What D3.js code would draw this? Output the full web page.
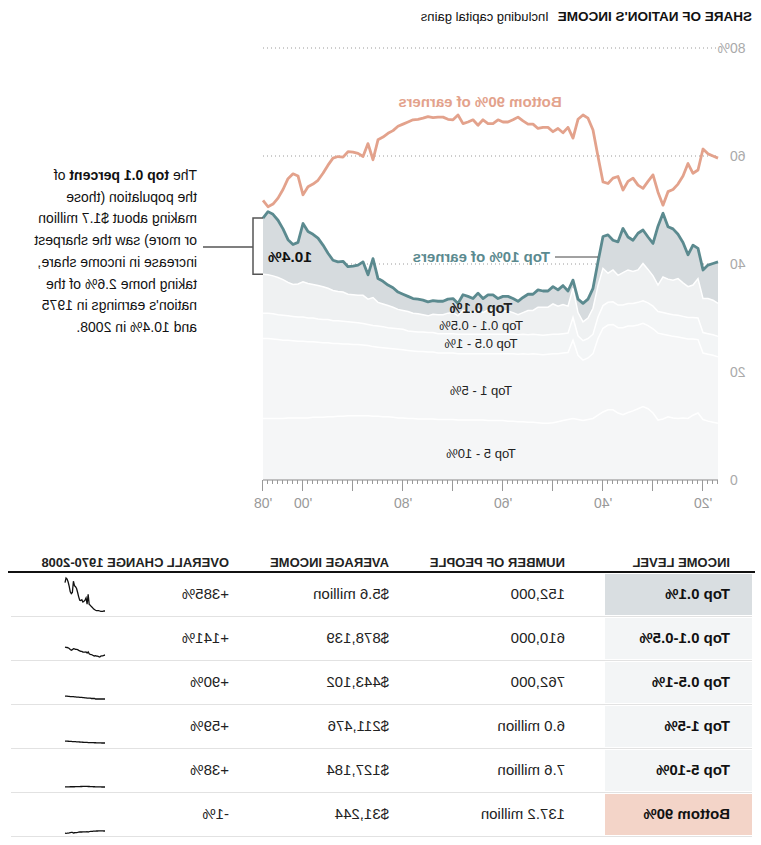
<!DOCTYPE html>
<html><head><meta charset="utf-8">
<script src="https://cdn.jsdelivr.net/npm/d3@7"></script>
<style>
body{margin:0;background:#fff;}
svg{display:block;font-family:"Liberation Sans",Arial,Helvetica,sans-serif;}
</style></head>
<body>
<svg id="chart" width="761" height="845"></svg>
<script>
// ---------- DATA ----------
const years = d3.range(1917, 2009);
const top5to10 = [10.5,10.7,10.9,11.2,12.4,12.0,11.4,11.5,11.4,11.5,
11.7,11.3,11.1,12.4,13.2,13.6,13.2,12.8,12.5,12.1,
12.4,13.0,13.0,12.6,12.0,11.4,11.2,11.0,11.2,11.4,
11.2,11.0,10.8,10.6,10.5,10.5,10.6,10.7,10.7,10.8,
10.8,10.9,10.9,11.0,11.0,11.0,11.0,11.1,11.1,11.1,
11.1,11.1,11.1,11.2,11.2,11.2,11.2,11.3,11.3,11.3,
11.3,11.4,11.4,11.5,11.5,11.6,11.7,11.7,11.8,11.8,
11.9,11.9,11.9,11.9,11.9,11.8,11.8,11.7,11.7,11.6,
11.6,11.6,11.5,11.5,11.5,11.5,11.5,11.4,11.4,11.4,
11.4,11.4];
const top1to5 = [12.3,12.4,12.4,12.3,13.6,14.1,14.7,14.8,15.1,15.1,
15.1,15.7,16.1,15.6,15.4,15.4,15.5,15.7,16.0,16.1,
15.8,15.8,15.7,15.5,14.2,12.0,11.4,11.2,11.9,14.5,
12.4,12.5,12.6,12.8,12.8,12.7,12.7,12.7,12.6,12.6,
12.5,12.5,12.5,12.4,12.4,12.4,12.4,12.3,12.3,12.3,
12.3,12.3,12.3,12.3,12.3,12.3,12.3,12.4,12.4,12.5,
12.5,12.5,12.6,12.6,12.7,12.7,12.7,12.8,12.8,12.9,
13.0,13.1,13.2,13.2,13.3,13.4,13.5,13.6,13.7,13.8,
13.9,14.0,14.1,14.2,14.2,14.3,14.4,14.5,14.6,14.7,
14.8,14.8];
const top05to1 = [3.8,3.8,3.8,3.8,4.0,4.0,4.0,4.0,4.0,4.0,
4.0,4.0,4.0,4.2,4.2,4.2,4.2,4.2,4.2,4.2,
4.2,4.2,4.2,4.2,4.0,3.6,3.6,3.6,3.6,4.2,
3.6,3.6,3.6,3.6,3.6,3.6,3.6,3.6,3.6,3.6,
3.6,3.6,3.6,3.6,3.6,3.6,3.6,3.6,3.6,3.6,
3.6,3.6,3.6,3.6,3.6,3.6,3.6,3.6,3.6,3.6,
3.6,3.6,3.6,3.8,3.8,3.8,3.8,3.9,3.9,3.9,
3.9,4.0,4.0,4.1,4.1,4.2,4.2,4.2,4.3,4.3,
4.3,4.4,4.4,4.5,4.5,4.5,4.5,4.6,4.6,4.7,
4.7,4.7];
const top01to05 = [6.1,6.4,6.5,6.3,7.3,6.0,5.7,6.2,6.8,6.4,
6.4,6.6,4.9,5.6,6.2,6.9,6.0,5.9,6.2,6.0,
5.5,5.9,5.4,6.9,5.8,4.8,3.8,3.5,4.3,5.4,
5.0,5.4,5.2,5.6,5.1,5.2,5.1,4.4,4.5,4.0,
3.7,4.0,4.3,4.3,4.0,4.5,4.5,4.0,4.7,4.0,
4.2,4.4,3.4,3.9,3.8,3.5,3.5,3.4,3.1,3.2,
3.4,3.4,3.6,3.5,3.6,3.9,4.1,4.2,4.4,5.2,
4.7,5.2,5.1,5.1,5.1,5.4,5.4,5.6,5.8,6.1,
6.2,6.2,6.4,6.5,6.1,5.9,6.2,6.6,6.9,7.0,
7.1,7.2];
const top01 = [7.7,6.8,6.2,5.3,5.6,7.4,5.9,7.5,8.2,9.5,
9.7,11.8,10.9,6.0,6.0,6.2,6.8,5.8,6.1,8.2,
6.2,5.5,7.1,5.9,4.4,3.7,3.5,3.4,2.5,1.5,
2.8,3.5,3.0,3.2,3.0,3.0,3.2,3.0,3.0,2.8,
2.5,2.6,2.7,2.7,2.6,2.8,2.8,2.6,2.9,2.6,
2.8,2.9,2.3,2.6,2.6,2.5,2.5,2.5,2.6,2.7,
2.7,2.7,2.8,3.0,3.2,3.6,3.8,4.2,4.4,7.2,
4.5,6.2,5.6,5.3,5.1,5.7,5.5,5.6,6.5,7.7,
8.8,9.3,9.6,10.8,7.7,7.4,7.9,9.4,10.6,11.4,
11.7,10.4];
const bottom90 = [59.6,60.0,60.4,61.3,57.4,56.8,58.6,56.3,54.8,53.8,
53.4,50.9,53.3,56.5,55.3,54.0,54.6,55.9,55.3,53.7,
56.2,55.9,54.9,55.2,59.9,64.8,67.0,67.6,66.8,63.3,
65.3,64.3,65.1,64.5,65.3,65.3,65.1,65.9,65.9,66.5,
67.2,66.7,66.3,66.3,66.7,66.0,66.0,66.7,65.7,66.7,
66.3,66.0,67.6,66.7,66.8,67.2,67.2,67.1,67.3,67.0,
66.8,66.7,66.3,65.9,65.5,64.7,64.2,63.5,63.0,59.3,
62.3,59.9,60.5,60.7,60.8,59.8,59.9,59.6,58.3,56.8,
55.5,54.8,54.3,52.8,56.3,56.7,55.8,53.8,52.2,51.1,
50.6,51.8];

const layerKeys = ["top5to10","top1to5","top05to1","top01to05","top01"];
const layerLabels = ["Top 5 - 10%","Top 1 - 5%","Top 0.5 - 1%","Top 0.1 - 0.5%","Top 0.1%"];
const yTicks = [0,20,40,60,80];
const xLabelYears = [1920,1940,1960,1980,2000,2008];

const tableHeaders = ["INCOME LEVEL","NUMBER OF PEOPLE","AVERAGE INCOME","OVERALL CHANGE 1970-2008"];
const incomeLevels = ["Top 0.1%","Top 0.1-0.5%","Top 0.5-1%","Top 1-5%","Top 5-10%","Bottom 90%"];
const numPeople = ["152,000","610,000","762,000","6.0 million","7.6 million","137.2 million"];
const avgIncome = ["$5.6 million","$878,139","$443,102","$211,476","$127,184","$31,244"];
const overallChange = ["+385%","+141%","+90%","+59%","+38%","-1%"];

// ---------- SETUP ----------
const W = 761, H = 845;
const svg = d3.select("#chart");
// whole picture is mirrored horizontally, like the reference
const root = svg.append("g").attr("transform", `translate(${W},0) scale(-1,1)`);

const x = d3.scaleLinear().domain([1920, 2000]).range([58, 458]);
const y = d3.scaleLinear().domain([0, 80]).range([480, 48]);

const table = years.map((yr, i) => ({
  year: yr, top5to10: top5to10[i], top1to5: top1to5[i], top05to1: top05to1[i],
  top01to05: top01to05[i], top01: top01[i], bottom90: bottom90[i]
}));
const stack = d3.stack().keys(layerKeys)(table);

const teal = "#5b8a8f", salmon = "#e3a28c";

// title
const title = root.append("text").attr("x", 9).attr("y", 21).attr("fill", "#111");
title.append("tspan").attr("font-weight", "bold").attr("font-size", 13.5).text("SHARE OF NATION'S INCOME");
title.append("tspan").attr("dx", 9).attr("font-size", 13).text("Including capital gains");

// grid lines
const grid = root.append("g");
yTicks.filter(d => d > 0).forEach(t => {
  grid.append("line").attr("x1", 45).attr("x2", 498).attr("y1", y(t)).attr("y2", y(t))
    .attr("stroke", "#9a9a9a").attr("stroke-width", 1).attr("stroke-dasharray", "1,3");
});
yTicks.forEach(t => {
  root.append("text").attr("x", 31).attr("y", y(t) + 5).attr("text-anchor", "end")
    .attr("font-size", 14).attr("fill", "#aaa").text(t);
  if (t === 80) {
    root.append("text").attr("x", 31).attr("y", y(t) + 5).attr("font-size", 14).attr("fill", "#aaa").text("%");
  }
});

// stacked areas
const fills = ["#f5f6f7","#f5f6f7","#f3f5f6","#eff1f2","#d6dbde"];
const area = d3.area().x(d => x(d.data.year)).y0(d => y(d[0])).y1(d => y(d[1]));
root.append("g").selectAll("path").data(stack).join("path")
  .attr("d", area).attr("fill", (d, i) => fills[i]);
// white separators
const edge = d3.line().x(d => x(d.data.year)).y(d => y(d[1]));
root.append("g").selectAll("path").data(stack.slice(0, 4)).join("path")
  .attr("d", edge).attr("fill", "none").attr("stroke", "#fff").attr("stroke-width", 1.5);

// top 10% line
root.append("path").datum(stack[4]).attr("d", edge).attr("fill", "none")
  .attr("stroke", teal).attr("stroke-width", 2.8).attr("stroke-linejoin", "round");
// bottom 90% line
root.append("path").datum(table)
  .attr("d", d3.line().x(d => x(d.year)).y(d => y(d.bottom90)))
  .attr("fill", "none").attr("stroke", salmon).attr("stroke-width", 2.8).attr("stroke-linejoin", "round");

// x axis
const xAxis = d3.axisBottom(x).tickValues(years).tickSize(4).tickFormat("");
const ax = root.append("g").attr("transform", "translate(0,480)").call(xAxis);
ax.select(".domain").attr("stroke", "#888").attr("d", `M${x(1917)},0H${x(2008)}`);
ax.selectAll(".tick line").attr("stroke", "#999")
  .attr("y2", d => (d % 10 === 0 || d === 2008) ? 11 : 4);
xLabelYears.forEach(yr => {
  root.append("text").attr("x", x(yr)).attr("y", 508).attr("text-anchor", "middle")
    .attr("font-size", 14).attr("fill", "#999").text("'" + String(yr).slice(2));
});

// labels in chart
root.append("text").attr("x", 281).attr("y", 107).attr("text-anchor", "middle")
  .attr("font-size", 15).attr("font-weight", "bold").attr("fill", salmon).text("Bottom 90% of earners");
root.append("line").attr("x1", x(1941)).attr("x2", 206).attr("y1", 257).attr("y2", 257)
  .attr("stroke", "#444").attr("stroke-width", 1);
root.append("text").attr("x", 211).attr("y", 262).attr("font-size", 15).attr("font-weight", "bold")
  .attr("fill", teal).text("Top 10% of earners");
const lblY = [458, 395, 348, 330, 313];
layerLabels.forEach((l, i) => {
  root.append("text").attr("x", 280).attr("y", lblY[i]).attr("text-anchor", "middle")
    .attr("font-size", i === 4 ? 14.5 : 13).attr("font-weight", i === 4 ? "bold" : "normal").attr("fill", "#222").text(l);
});
root.append("text").attr("x", 493).attr("y", 262).attr("text-anchor", "end")
  .attr("font-size", 15.5).attr("font-weight", "bold").attr("fill", "#111").text("10.4%");

// bracket
const br = root.append("g").attr("stroke", "#555").attr("stroke-width", 1.5).attr("fill", "none");
br.append("path").attr("d", `M${x(2008)},${y(48.5)}H508V${y(38.1)}H${x(2008)}`);
br.append("line").attr("x1", 508).attr("x2", 558).attr("y1", 247).attr("y2", 247);

// annotation
const ann = [
  [["The ", false], ["top 0.1 percent", true], [" of", false]],
  [["the population (those", false]],
  [["making about $1.7 million", false]],
  [["or more) saw the sharpest", false]],
  [["increase in income share,", false]],
  [["taking home 2.6% of the", false]],
  [["nation's earnings in 1975", false]],
  [["and 10.4% in 2008.", false]]
];
ann.forEach((line, i) => {
  const t = root.append("text").attr("x", 564).attr("y", 180 + i * 21.7).attr("font-size", 14).attr("fill", "#111");
  line.forEach(([s, b]) => t.append("tspan").attr("font-weight", b ? "bold" : "normal").text(s));
});

// ---------- TABLE ----------
const colX = [31, 196, 372, 532];
const rowTop = 572, rowH = 44;
tableHeaders.forEach((h, i) => {
  root.append("text").attr("x", colX[i]).attr("y", 567).attr("font-size", 13).attr("font-weight", "bold")
    .attr("fill", "#222").text(h);
});
const cellFill = ["#d9dee1","#f3f5f6","#f3f5f6","#f3f5f6","#f3f5f6","#f3d4c8"];
incomeLevels.forEach((lvl, i) => {
  const top = rowTop + i * rowH;
  root.append("rect").attr("x", 9).attr("y", top + 2).attr("width", 147).attr("height", rowH - 3).attr("fill", cellFill[i]);
  root.append("line").attr("x1", 9).attr("x2", 750).attr("y1", top + rowH + 0.5).attr("y2", top + rowH + 0.5)
    .attr("stroke", "#e2e2e2");
  const ty = top + 27;
  root.append("text").attr("x", colX[0]).attr("y", ty).attr("font-size", 15).attr("font-weight", "bold").attr("fill", "#111").text(lvl);
  root.append("text").attr("x", colX[1]).attr("y", ty).attr("font-size", 15).attr("fill", "#222").text(numPeople[i]);
  root.append("text").attr("x", colX[2]).attr("y", ty).attr("font-size", 15).attr("fill", "#222").text(avgIncome[i]);
  root.append("text").attr("x", colX[3]).attr("y", ty).attr("font-size", 15).attr("fill", "#222").text(overallChange[i]);
});
root.append("line").attr("x1", 6).attr("x2", 753).attr("y1", rowTop).attr("y2", rowTop)
  .attr("stroke", "#111").attr("stroke-width", 2);

// sparklines (1970-2008), share relative to 1970
const sparkKeys = ["top01","top01to05","top05to1","top1to5","top5to10","bottom90"];
const sub = table.filter(d => d.year >= 1970);
const sx = d3.scaleLinear().domain([1970, 2008]).range([656, 696]);
sparkKeys.forEach((k, i) => {
  const base = sub[0][k];
  const sy = d3.scaleLinear().domain([1, 4.5]).range([rowTop + i * rowH + 39, rowTop + i * rowH + 6]);
  root.append("path").datum(sub)
    .attr("d", d3.line().x(d => sx(d.year)).y(d => sy(d[k] / base)))
    .attr("fill", "none").attr("stroke", "#111").attr("stroke-width", 1.3);
});
</script>
</body></html>
